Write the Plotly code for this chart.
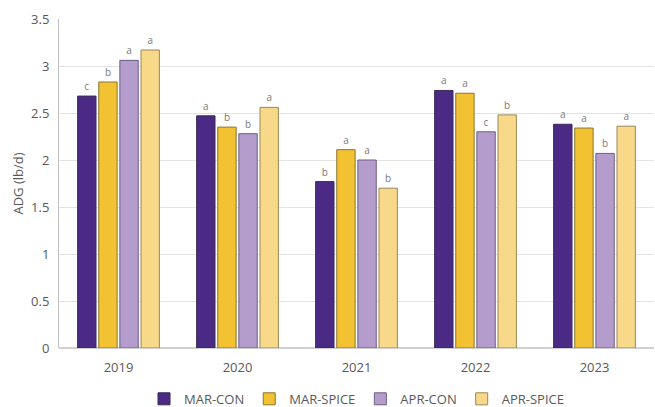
import plotly.graph_objects as go

years = ["2019", "2020", "2021", "2022", "2023"]
series_names = ["MAR-CON", "MAR-SPICE", "APR-CON", "APR-SPICE"]
mar_con = [2.68, 2.47, 1.77, 2.74, 2.38]
mar_spice = [2.83, 2.35, 2.11, 2.71, 2.34]
apr_con = [3.06, 2.28, 2.00, 2.30, 2.07]
apr_spice = [3.17, 2.56, 1.70, 2.48, 2.36]
letters_mar_con = ["c", "a", "b", "a", "a"]
letters_mar_spice = ["b", "b", "a", "a", "a"]
letters_apr_con = ["a", "b", "a", "c", "b"]
letters_apr_spice = ["a", "a", "b", "b", "a"]
y_ticks = [0, 0.5, 1, 1.5, 2, 2.5, 3, 3.5]
y_tick_labels = ["0", "0.5", "1", "1.5", "2", "2.5", "3", "3.5"]

values = [mar_con, mar_spice, apr_con, apr_spice]
letters = [letters_mar_con, letters_mar_spice, letters_apr_con, letters_apr_spice]
fills = ["#4a2a85", "#f2c232", "#b49ccc", "#f8d98a"]
edges = ["#3a2a55", "#8a7434", "#6e5f80", "#9a8656"]

fig = go.Figure()
for name, vals, lets, fc, ec in zip(series_names, values, letters, fills, edges):
    fig.add_trace(go.Bar(
        x=years, y=vals, name=name,
        marker=dict(color=fc, line=dict(color=ec, width=1)),
        text=lets, textposition="outside",
        textfont=dict(size=10, color="#7a7a7a", family="Open Sans"),
        cliponaxis=False,
    ))

fig.update_layout(
    width=655, height=407,
    margin=dict(l=59, r=1, t=19, b=59, autoexpand=False),
    paper_bgcolor="white", plot_bgcolor="white",
    barmode="group", bargap=0.29, bargroupgap=0.13,
    font=dict(family="Open Sans", color="#595959", size=12),
    showlegend=True,
    legend=dict(orientation="h", x=0.5, xanchor="center",
                yref="container", y=0.02, yanchor="middle",
                font=dict(size=13, color="#595959"), itemwidth=30,
                traceorder="normal", tracegroupgap=0),
    xaxis=dict(showgrid=False, showline=False, ticks="", ticklabelstandoff=10,
               tickfont=dict(size=13, color="#595959")),
    yaxis=dict(range=[0, 3.5], tickvals=y_ticks, ticktext=y_tick_labels,
               showgrid=True, gridcolor="#e4e4e4", gridwidth=1,
               showline=True, linecolor="#bfbfbf", linewidth=1,
               zeroline=True, zerolinecolor="#d0d0d0",
               ticklabelstandoff=6,
               title=dict(text="ADG (lb/d)", font=dict(size=13, color="#595959"), standoff=4),
               tickfont=dict(size=13, color="#595959")),
)

fig.write_html("out.html")
